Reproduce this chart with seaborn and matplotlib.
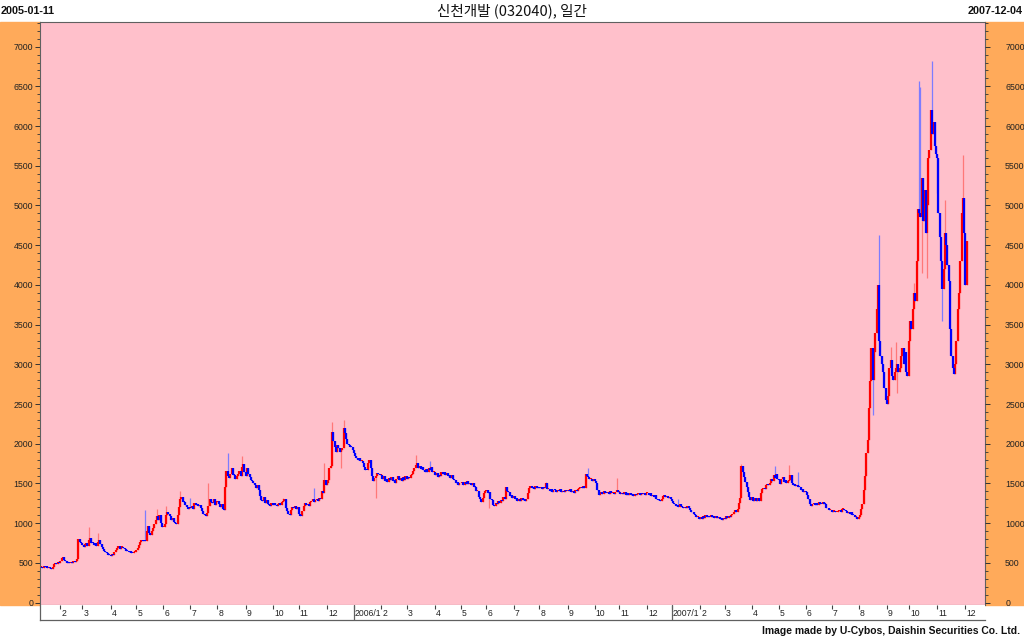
import matplotlib
matplotlib.use("Agg")
import matplotlib.pyplot as plt
from matplotlib.patches import Rectangle
from matplotlib.ticker import MultipleLocator
import seaborn as sns
import numpy as np
import pandas as pd

# ------------------------------------------------------------------ #
#  Data: daily closes of 신천개발 (032040)          #
# ------------------------------------------------------------------ #
start_date = "2005-01-11"
end_date = "2007-12-04"

# Korean exchange closing days that fall on weekdays
krx_holidays = [
    "2005-02-08", "2005-02-09", "2005-02-10", "2005-03-01", "2005-04-05",
    "2005-05-05", "2005-06-06", "2005-08-15", "2005-09-19", "2005-10-03",
    "2005-12-30",
    "2006-01-30", "2006-03-01", "2006-05-01", "2006-05-05", "2006-05-31",
    "2006-06-06", "2006-07-17", "2006-08-15", "2006-10-03", "2006-10-05",
    "2006-10-06", "2006-12-25", "2006-12-29",
    "2007-01-01", "2007-02-19", "2007-03-01", "2007-05-01", "2007-05-24",
    "2007-06-06", "2007-07-17", "2007-08-15", "2007-09-24", "2007-09-25",
    "2007-09-26", "2007-10-03",
]

close_2005 = [
    450, 440, 460, 445, 455, 440, 450, 430, 420, 445, 480, 500, 490, 510, 495,  # Jan
    525, 560, 580, 540, 520, 500, 515, 495, 510, 500, 520, 510, 530, 545, 800, 760, 745,  # Feb
    720, 695, 735, 750, 715, 790, 810, 755, 745, 725, 755, 715, 765, 790, 735, 705, 675, 655, 635, 625, 605, 600,  # Mar
    590, 615, 605, 640, 665, 690, 710, 675, 695, 705, 685, 670, 655, 650, 635, 655, 625, 620, 635, 640,  # Apr
    665, 690, 725, 760, 785, 770, 790, 775, 900, 960, 875, 855, 905, 945, 990, 1040, 1090, 1040, 1100, 1000, 955,  # May
    955, 990, 1100, 1140, 1110, 1085, 1045, 1065, 1015, 1005, 985, 1100, 1210, 1300, 1330, 1270, 1265, 1235, 1200, 1175, 1205,  # Jun
    1185, 1220, 1175, 1255, 1225, 1245, 1215, 1235, 1195, 1150, 1115, 1105, 1090, 1125, 1220, 1310, 1265, 1250, 1305, 1235, 1265,  # Jul
    1285, 1245, 1205, 1245, 1175, 1170, 1450, 1660, 1590, 1565, 1625, 1690, 1610, 1605, 1555, 1590, 1615, 1660, 1595, 1710, 1745, 1640,  # Aug
    1600, 1690, 1615, 1585, 1545, 1535, 1505, 1485, 1445, 1475, 1415, 1345, 1295, 1285, 1325, 1255, 1295, 1245, 1235, 1215, 1255,  # Sep
    1235, 1255, 1225, 1220, 1245, 1250, 1225, 1265, 1280, 1305, 1195, 1155, 1115, 1100, 1170, 1205, 1185, 1215, 1175, 1205,  # Oct
    1120, 1095, 1085, 1155, 1220, 1255, 1225, 1245, 1215, 1265, 1280, 1305, 1265, 1295, 1300, 1285, 1315, 1300, 1400, 1375, 1550, 1480,  # Nov
    1505, 1545, 1700, 1725, 2150, 2040, 1955, 1895, 1985, 1945, 1895, 1925, 1950, 2200, 2140, 2055, 1995, 1985, 1965, 1955, 1925,  # Dec
]

close_2006 = [
    1885, 1845, 1825, 1795, 1815, 1785, 1785, 1755, 1705, 1675, 1665, 1760, 1795, 1695, 1600, 1535, 1565, 1600, 1635, 1615, 1610,  # Jan
    1610, 1560, 1590, 1530, 1560, 1520, 1570, 1540, 1580, 1530, 1550, 1510, 1560, 1590, 1540, 1570, 1530, 1580, 1550, 1590,  # Feb
    1560, 1585, 1570, 1610, 1620, 1660, 1700, 1730, 1760, 1690, 1720, 1680, 1710, 1670, 1650, 1680, 1650, 1690, 1670, 1710, 1640, 1650,  # Mar
    1610, 1630, 1580, 1610, 1600, 1650, 1620, 1640, 1610, 1630, 1590, 1610, 1570, 1610, 1560, 1540, 1500, 1520, 1480, 1510,  # Apr
    1500, 1520, 1480, 1515, 1495, 1525, 1490, 1510, 1480, 1510, 1460, 1450, 1410, 1410, 1330, 1300, 1270, 1320, 1380, 1400,  # May
    1420, 1380, 1390, 1310, 1290, 1230, 1220, 1260, 1240, 1285, 1255, 1295, 1280, 1330, 1310, 1450, 1410, 1390, 1340, 1350, 1320,  # Jun
    1340, 1300, 1315, 1280, 1305, 1275, 1315, 1290, 1300, 1285, 1310, 1380, 1440, 1465, 1440, 1455, 1435, 1465, 1440, 1450,  # Jul
    1445, 1455, 1430, 1460, 1445, 1505, 1425, 1430, 1400, 1425, 1395, 1420, 1415, 1395, 1420, 1410, 1425, 1395, 1405, 1390, 1420, 1400,  # Aug
    1415, 1405, 1425, 1395, 1410, 1385, 1415, 1400, 1425, 1440, 1460, 1440, 1465, 1445, 1620, 1590, 1585, 1555, 1560, 1535, 1560,  # Sep
    1525, 1505, 1420, 1350, 1375, 1395, 1370, 1405, 1385, 1375, 1390, 1370, 1405, 1375, 1385, 1365, 1395, 1420, 1395,  # Oct
    1395, 1370, 1385, 1365, 1390, 1360, 1380, 1355, 1380, 1350, 1365, 1345, 1370, 1350, 1365, 1375, 1355, 1380, 1365, 1385, 1355, 1375,  # Nov
    1385, 1355, 1375, 1345, 1350, 1335, 1355, 1310, 1295, 1290, 1280, 1305, 1340, 1355, 1325, 1345, 1315, 1335, 1300,  # Dec
]

close_2007 = [
    1280, 1255, 1240, 1215, 1235, 1205, 1245, 1215, 1205, 1195, 1210, 1185, 1215, 1195, 1170, 1145, 1135, 1115, 1100, 1075, 1075, 1055,  # Jan
    1075, 1055, 1085, 1070, 1100, 1080, 1095, 1075, 1100, 1080, 1095, 1070, 1085, 1060, 1075, 1050, 1070, 1045, 1070,  # Feb
    1055, 1085, 1070, 1095, 1075, 1105, 1120, 1145, 1160, 1140, 1175, 1250, 1320, 1720, 1650, 1580, 1520, 1450, 1390, 1330, 1295,  # Mar
    1325, 1285, 1315, 1275, 1305, 1320, 1285, 1380, 1425, 1440, 1425, 1475, 1490, 1475, 1505, 1560, 1535, 1605, 1575, 1625, 1555,  # Apr
    1540, 1495, 1555, 1580, 1515, 1545, 1505, 1535, 1550, 1605, 1500, 1480, 1495, 1465, 1485, 1455, 1450, 1415, 1435, 1395, 1410,  # May
    1390, 1355, 1300, 1245, 1220, 1245, 1255, 1225, 1255, 1235, 1265, 1245, 1240, 1265, 1245, 1240, 1195, 1185, 1165, 1165,  # Jun
    1145, 1150, 1155, 1140, 1145, 1150, 1165, 1145, 1175, 1180, 1165, 1155, 1125, 1145, 1115, 1135, 1105, 1100, 1075, 1075, 1055,  # Jul
    1080, 1100, 1180, 1240, 1420, 1600, 1880, 2050, 2450, 2790, 3200, 2800, 3150, 3400, 3700, 4000, 3300, 3100, 3000, 2900, 2700, 2550,  # Aug
    2500, 2600, 2950, 3050, 2850, 2800, 2900, 2950, 3000, 2900, 2950, 3100, 3200, 3000, 3150, 2900, 2850,  # Sep
    3300, 3550, 3450, 3700, 3900, 3800, 4300, 4950, 4900, 4850, 5350, 4800, 5200, 4650, 5000, 5600, 5700, 6200, 5900, 6050, 5750, 5650,  # Oct
    5600, 4900, 4600, 4300, 3950, 4200, 4650, 4500, 4250, 4050, 3450, 3100, 2950, 2880, 3000, 3300, 3700, 3900, 4300, 4900, 5100, 4650,  # Nov
    4000, 4550,  # Dec
]

# intraday extremes that stick out of the bodies (trading-day index, price)
high_days = [37, 44, 81, 90, 97, 108, 116, 130, 145, 156, 188, 212, 220, 226, 235,
             291, 302, 392, 425, 447, 495, 544, 570, 581, 588, 651, 660, 664, 678,
             682, 683, 692, 702, 716]
high_vals = [946, 880, 1160, 1175, 1217, 1404, 1320, 1500, 1880, 1840, 1320, 1446,
             1758, 2280, 2300, 1860, 1780, 1517, 1696, 1571, 1300, 1750, 1725, 1737,
             1650, 4633, 3217, 3280, 4030, 6570, 6490, 6820, 5070, 5630]
low_days = [233, 260, 348, 646, 665, 684, 688, 696, 700]
low_vals = [1696, 1321, 1196, 2362, 2633, 4150, 4092, 5154, 3550]

# ------------------------------------------------------------------ #
#  Build OHLC                                                          #
# ------------------------------------------------------------------ #
days = pd.bdate_range(start_date, end_date)
days = days[~days.isin(pd.to_datetime(krx_holidays))]
close = np.array(close_2005 + close_2006 + close_2007, dtype=float)
n = min(len(days), len(close))
days, close = days[:n], close[:n]

opens = np.r_[close[0], close[:-1]]
high = np.maximum(opens, close)
low = np.minimum(opens, close)
for d, v in zip(high_days, high_vals):
    if d < n:
        high[d] = max(high[d], v)
for d, v in zip(low_days, low_vals):
    if d < n:
        low[d] = min(low[d], v)

x = np.arange(n)
up = close >= opens
body_lo = np.minimum(opens, close)
body_hi = np.maximum(np.maximum(opens, close), body_lo + 12)

# ------------------------------------------------------------------ #
#  Styling                                                             #
# ------------------------------------------------------------------ #
sns.set_theme(style="ticks")
plt.rcParams["font.family"] = ["Liberation Sans", "DejaVu Sans"]

W, H = 1024, 638
PINK = "#FFC0CB"
ORANGE = "#FFAA5A"
EDGE = "#606060"

fig = plt.figure(figsize=(W / 100, H / 100), dpi=100, facecolor="white")

px_l, px_r, px_t, px_b = 40, 985, 22, 605
ax_rect = [px_l / W, 1 - px_b / H, (px_r - px_l) / W, (px_b - px_t) / H]

# orange side panels behind the price scales (drawn below the axes)
fig.patches.append(Rectangle((0, 1 - px_b / H), px_l / W, (px_b - px_t) / H,
                             transform=fig.transFigure, color=ORANGE, zorder=-1))
fig.patches.append(Rectangle((px_r / W, 1 - px_b / H), (W - px_r) / W, (px_b - px_t) / H,
                             transform=fig.transFigure, color=ORANGE, zorder=-1))

ax = fig.add_axes(ax_rect, facecolor=PINK)
ax.vlines(x[up], low[up], high[up], color="#FF7878", lw=0.9)
ax.vlines(x[~up], low[~up], high[~up], color="#7C7CFF", lw=0.9)
ax.vlines(x[up], body_lo[up], body_hi[up], color="#FF0000", lw=1.6)
ax.vlines(x[~up], body_lo[~up], body_hi[~up], color="#0000FF", lw=1.6)

ax.set_xlim(-0.8, 733.2)
ax.set_ylim(-30, 7310)
ax.yaxis.set_major_locator(MultipleLocator(500))
ax.yaxis.set_minor_locator(MultipleLocator(100))
ax.tick_params(axis="x", bottom=False, labelbottom=False)
ax.tick_params(axis="y", which="both", direction="out", colors="#333333",
               labelsize=6.3, pad=1.5, labelcolor="#222222")
ax.tick_params(axis="y", which="major", length=3.5, width=0.7)
ax.tick_params(axis="y", which="minor", length=2.2, width=0.6)
for side in ["left", "right", "top", "bottom"]:
    ax.spines[side].set_color(EDGE)
    ax.spines[side].set_linewidth(0.8)

axr = ax.twinx()
axr.set_ylim(ax.get_ylim())
axr.yaxis.set_major_locator(MultipleLocator(500))
axr.yaxis.set_minor_locator(MultipleLocator(100))
axr.tick_params(axis="y", which="both", direction="out", colors="#333333",
                labelsize=6.3, pad=11, labelcolor="#222222")
axr.tick_params(axis="y", which="major", length=3.5, width=0.7)
axr.tick_params(axis="y", which="minor", length=2.2, width=0.6)
axr.grid(False)
for side in ["left", "right", "top", "bottom"]:
    axr.spines[side].set_visible(False)

# date strip under the chart
strip_b, strip_t = 620, 605
axs = fig.add_axes([px_l / W, 1 - strip_b / H, (px_r - px_l) / W, (strip_b - strip_t) / H],
                   facecolor="white", sharex=ax)
axs.set_ylim(0, 1)
axs.set_yticks([])
for side in ["left", "bottom"]:
    axs.spines[side].set_color(EDGE)
    axs.spines[side].set_linewidth(0.9)
axs.spines["top"].set_visible(False)
axs.spines["right"].set_visible(False)

month_starts = [i for i in range(1, n) if days[i].month != days[i - 1].month]
axs.set_xticks(month_starts)
axs.tick_params(axis="x", bottom=False, top=True, labelbottom=False, direction="in",
                length=3, width=0.8, color="#444444")
for i in month_starts:
    d = days[i]
    label = f"{d.year}/1" if d.month == 1 else str(d.month)
    if d.month == 1:
        axs.axvline(i, color=EDGE, lw=0.9)
    axs.text(i + 0.9, 0.42, label, ha="left", va="center", fontsize=6.2, color="#222222")
axs.set_xlim(-0.8, 733.2)

# header and footer texts
fig.text(1 / W, 1 - 11 / H, "2005-01-11", ha="left", va="center",
         family=["Liberation Sans Narrow", "Liberation Sans"], fontweight="bold",
         fontsize=7.8, color="#111111")
fig.text(1023 / W, 1 - 11 / H, "2007-12-04", ha="right", va="center",
         family=["Liberation Sans Narrow", "Liberation Sans"], fontweight="bold",
         fontsize=7.8, color="#111111")
fig.text(0.5, 1 - 11 / H, "신천개발 (032040), 일간", ha="center", va="center",
         family=["Noto Sans CJK KR", "DejaVu Sans"], fontsize=10.5, color="#111111")
fig.text(1020 / W, 1 - 631 / H, "Image made by U-Cybos, Daishin Securities Co. Ltd.",
         ha="right", va="center", fontweight="bold", fontsize=7.5, color="#111111")

fig.savefig("out.png", dpi=100, facecolor="white")
